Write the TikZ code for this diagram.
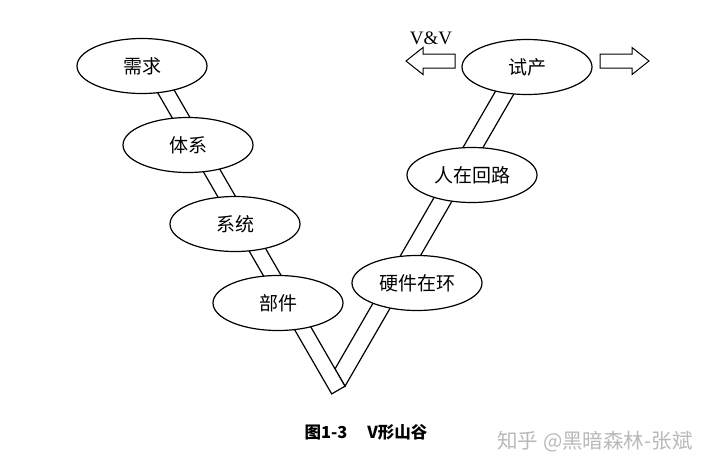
\documentclass[tikz,border=0pt]{standalone}
\usepackage{fontspec}
\setmainfont{Liberation Serif}
\newfontfamily\cjk{Noto Sans CJK SC}
\usetikzlibrary{shapes.geometric}
\definecolor{markgray}{RGB}{185,185,185}

\begin{document}
\begin{tikzpicture}[x=1pt, y=-1pt, line width=1.2pt,
    main/.style = {draw, ellipse, fill=white, minimum width=130pt, minimum height=55pt, inner sep=0pt, font=\cjk\fontsize{19}{19}\selectfont},
    bar/.style = {draw, fill=white, line join=miter},
    hollow/.style = {draw, fill=white, line width=1pt, line join=miter}]
    \useasboundingbox (0,0) rectangle (720,472);

    % ends of the two bars of the V
    \coordinate (lt1) at (138.8,60);
    \coordinate (lt2) at (156.8,60);
    \coordinate (lb1) at (331.7,393.9);
    \coordinate (lb2) at (345.0,386.2);
    \coordinate (rt1) at (502,80);
    \coordinate (rt2) at (522,80);
    \coordinate (rb1) at (335.0,368.9);

    \draw[bar] (rb1) -- (rt1) -- (rt2) -- (lb2) -- cycle;
    \draw[bar] (lt1) -- (lb1) -- (lb2) -- (lt2) -- cycle;

    \node[main] (1) at (142,66)  {需求};
    \node[main] (2) at (188,145) {体系};
    \node[main] (3) at (235,224) {系统};
    \node[main] (4) at (278,303) {部件};
    \node[main] (5) at (417,283) {硬件在环};
    \node[main] (6) at (472,175) {人在回路};
    \node[main] (7) at (527,67)  {试产};

    % V&V arrows
    \node (vv) at (431,38) {\fontsize{19}{19}\selectfont V\&V};
    \draw[hollow] (406,61) -- (423,47.5) -- (423,54) -- (455,54) -- (455,68) -- (423,68) -- (423,74.5) -- cycle;
    \draw[hollow] (649,61) -- (632,47.5) -- (632,54) -- (600,54) -- (600,68) -- (632,68) -- (632,74.5) -- cycle;

    \node (cap) at (366,432) {\cjk\bfseries\fontsize{16.5}{16.5}\selectfont 图1-3\hspace{1.2em}V形山谷};
    \node[text=markgray] (mark) at (595,442) {\cjk\fontsize{20.5}{20.5}\selectfont 知乎 @黑暗森林-张斌};
\end{tikzpicture}
\end{document}
